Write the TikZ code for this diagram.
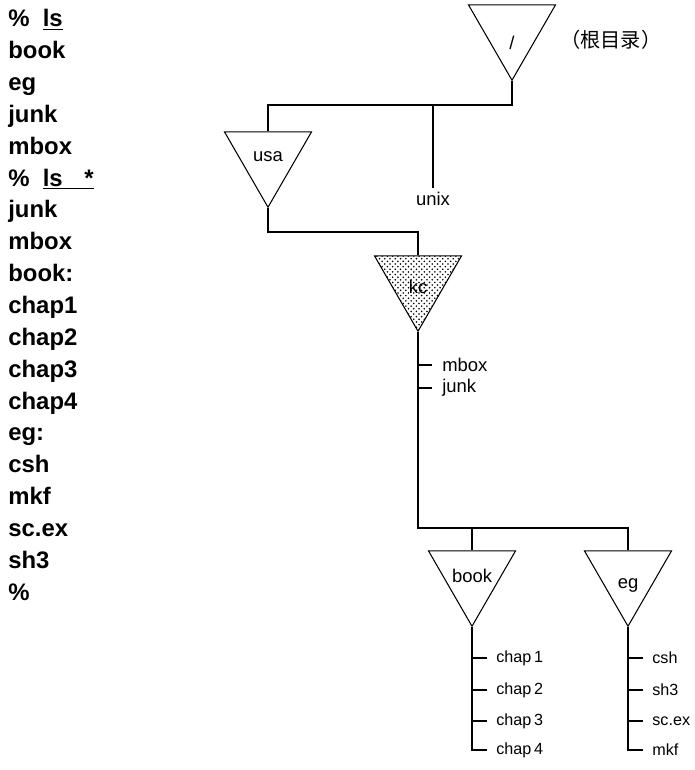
\documentclass[tikz,border=0pt]{standalone}
\usepackage{fontspec}
\setmainfont{Liberation Sans}
\newfontfamily\cjk{Noto Sans CJK SC}
\usetikzlibrary{shapes.geometric,patterns,positioning}

\begin{document}
\begin{tikzpicture}[x=0.02cm, y=-0.02cm,
    dir/.style={draw, regular polygon, regular polygon sides=3, shape border rotate=180,
                minimum size=2.01cm, inner sep=0pt, line width=0.6pt},
    dirname/.style={font=\fontsize{10.5}{12}\selectfont, inner sep=1pt},
    link/.style={line width=1.5pt},
    leaf/.style={anchor=west, inner ysep=2pt, inner xsep=0.2cm, font=\fontsize{10.5}{12}\selectfont},
    small/.style={anchor=west, inner ysep=2pt, inner xsep=0.18cm, font=\fontsize{9.2}{11}\selectfont},
    listing/.style={anchor=north west, align=left, inner sep=0pt,
                    font=\bfseries\fontsize{13.6}{18.14}\selectfont},
]
\useasboundingbox (0,0) rectangle (695,770);

% terminal session on the left
\node[listing] (term) at (8,9) {\%\ \ \underline{ls}\\ book\\ eg\\ junk\\ mbox\\
  \%\ \ \underline{ls\hspace{0.9em}*}\\ junk\\ mbox\\ book:\\ chap1\\ chap2\\ chap3\\ chap4\\
  eg:\\ csh\\ mkf\\ sc.ex\\ sh3\\ \%};

% root directory
\node[dir, label={[dirname, yshift=-0.26cm]center:/}] (root) at (512,30) {};
\node[anchor=west, inner sep=0pt, font=\cjk\fontsize{11.5}{13}\selectfont] (rootnote) at (560,40) {（根目录）};
\coordinate (rj) at (512,105);
\coordinate (uj) at (433,105);

% first level: usa and unix
\node[dir, label={[dirname]center:usa}] (usa) at (268,157) {};
\node[leaf, anchor=north, inner xsep=2pt] (unix) at (433,188) {unix};
\draw[link] (root.south) -- (rj) -| (usa.north);
\draw[link] (uj) -- (unix.north);

% home directory kc
\coordinate (uk) at (268,232);
\node[dir, pattern=crosshatch dots, label={[dirname, yshift=-0.12cm]center:kc}] (kc) at (418,281) {};
\draw[link] (usa.south) -- (uk) -| (kc.north);

\node[leaf] (mbox) at (432,365) {mbox};
\node[leaf] (junk) at (432,388) {junk};
\draw[link] (mbox.west -| kc.south) -- (mbox.west);
\draw[link] (junk.west -| kc.south) -- (junk.west);

% subdirectories book and eg
\coordinate (kb) at (418,528);
\node[dir, label={[dirname]center:book}] (book) at (472,576) {};
\node[dir, label={[dirname, yshift=-0.18cm]center:eg}] (eg) at (628,576) {};
\draw[link] (kc.south) -- (kb) -| (eg.north);
\draw[link] (book.north |- kb) -- (book.north);

% files in book
\node[small] (chap1) at (487,658) {chap\,1};
\node[small] (chap2) at (487,690) {chap\,2};
\node[small] (chap3) at (487,721) {chap\,3};
\node[small] (chap4) at (487,750) {chap\,4};
\draw[link] (book.south) |- (chap4.west);
\draw[link] (chap1.west -| book.south) -- (chap1.west);
\draw[link] (chap2.west -| book.south) -- (chap2.west);
\draw[link] (chap3.west -| book.south) -- (chap3.west);

% files in eg
\node[small] (csh) at (643,658) {csh};
\node[small] (sh3) at (643,690) {sh3};
\node[small] (scex) at (643,721) {sc.ex};
\node[small] (mkf) at (643,750) {mkf};
\draw[link] (eg.south) |- (mkf.west);
\draw[link] (csh.west -| eg.south) -- (csh.west);
\draw[link] (sh3.west -| eg.south) -- (sh3.west);
\draw[link] (scex.west -| eg.south) -- (scex.west);
\end{tikzpicture}
\end{document}
